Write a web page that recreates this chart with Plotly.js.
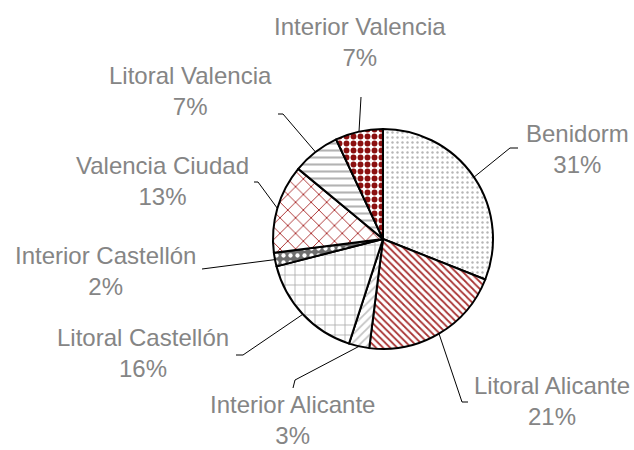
<!DOCTYPE html>
<html>
<head>
<meta charset="utf-8">
<script src="https://cdn.plot.ly/plotly-3.0.1.min.js"></script>
<style>html,body{margin:0;padding:0;background:#fff;}</style>
</head>
<body>
<div id="chart" style="width:634px;height:450px;"></div>
<script>
// ---- data ----
const labels = ["Benidorm", "Litoral Alicante", "Interior Alicante", "Litoral Castellón",
                "Interior Castellón", "Valencia Ciudad", "Litoral Valencia", "Interior Valencia"];
const values = [31, 21, 3, 16, 2, 13, 7, 7];

// ---- styles (layout) ----
const W = 634, H = 450;
const CX = 383, CY = 239, R = 110;
const patShape = [".", "\\", "/", "+", ".", "x", "-", "."];
const patFg    = ["#b5b5b5", "#a83232", "#c4c4c4", "#a6a6a6", "#ffffff", "#a82828", "#b3b3b3", "#8b1010"];
const patBg    = ["#ffffff", "#ffffff", "#ffffff", "#ffffff", "#6e6e6e", "#ffffff", "#ffffff", "#ffffff"];
const patSize  = [5, 5, 6, 10, 7, 11, 7, 7];
const patSol   = [0.18, 0.35, 0.3, 0.15, 0.3, 0.16, 0.3, 0.55];

// label block centre (px) and leader-line elbow points (px) for each slice
const labelPos = [[577, 149], [552, 401], [292, 420], [143, 353], [106, 271], [162, 181], [190, 91], [360, 42]];
const leaderPts = [
  [[510, 148], [518, 148]],
  [[462, 402], [468, 402]],
  [[295, 380], [293, 388]],
  [[243, 355], [236, 355]],
  [[202, 269]],
  [[258, 182], [254, 182]],
  [[283, 114], [278, 114]],
  [[361, 97]]
];

const px = x => x / W;
const py = y => 1 - y / H;

const total = values.reduce((a, b) => a + b, 0);
const annotations = [];
const shapes = [];
let cum = 0;
values.forEach((v, i) => {
  const a = (cum + v / 2) / total * 2 * Math.PI;
  cum += v;
  const ex = CX + R * Math.sin(a), ey = CY - R * Math.cos(a);
  let prev = [ex, ey];
  leaderPts[i].forEach(p => {
    shapes.push({type: "line", xref: "paper", yref: "paper",
      x0: px(prev[0]), y0: py(prev[1]), x1: px(p[0]), y1: py(p[1]),
      line: {color: "#000000", width: 1}});
    prev = p;
  });
  const pct = Math.round(v / total * 100);
  annotations.push({
    xref: "paper", yref: "paper", x: px(labelPos[i][0]), y: py(labelPos[i][1]),
    xanchor: "center", yanchor: "middle", showarrow: false,
    text: labels[i] + "<br>" + pct + "%",
    font: {family: "Liberation Sans, Arial, sans-serif", size: 24, color: "#858585"}
  });
});

const trace = {
  type: "pie",
  labels: labels,
  values: values,
  sort: false,
  direction: "clockwise",
  rotation: 0,
  textinfo: "none",
  hoverinfo: "label+percent",
  domain: {x: [px(CX - R), px(CX + R)], y: [py(CY + R), py(CY - R)]},
  marker: {
    colors: patBg,
    line: {color: "#000000", width: 2},
    pattern: {shape: patShape, fgcolor: patFg, bgcolor: patBg, size: patSize, solidity: patSol, fillmode: "replace"}
  }
};

const layout = {
  width: W, height: H,
  margin: {l: 0, r: 0, t: 0, b: 0},
  paper_bgcolor: "#ffffff",
  showlegend: false,
  annotations: annotations,
  shapes: shapes
};

Plotly.newPlot("chart", [trace], layout, {displayModeBar: false, staticPlot: true});
</script>
</body>
</html>
